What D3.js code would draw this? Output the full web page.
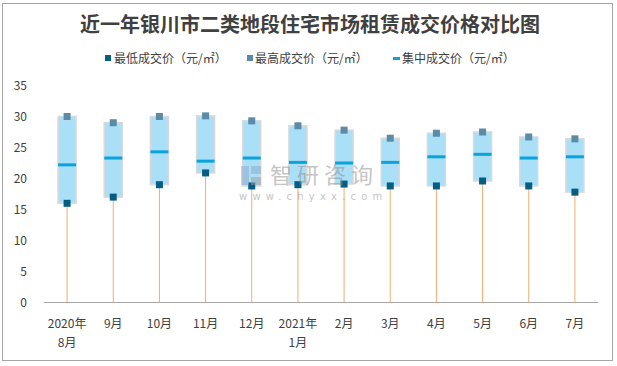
<!DOCTYPE html>
<html><head><meta charset="utf-8">
<script src="https://cdn.jsdelivr.net/npm/d3@7"></script>
<style>body{margin:0;background:#fff}svg{display:block}</style>
</head><body><svg id="c" width="617" height="366"></svg>
<script>
const categories = ["2020年|8月","9月","10月","11月","12月","2021年|1月","2月","3月","4月","5月","6月","7月"];
const minValues = [16.0,17.0,19.0,20.9,18.8,19.0,19.1,18.8,18.8,19.6,18.8,17.8];
const maxValues = [30.0,29.0,30.0,30.1,29.3,28.5,27.8,26.5,27.3,27.5,26.7,26.4];
const midValues = [22.2,23.3,24.3,22.8,23.3,22.6,22.5,22.6,23.5,23.9,23.3,23.5];
const yTicks = [0,5,10,15,20,25,30,35];
const legendLabels = ["最低成交价（元/㎡）","最高成交价（元/㎡）","集中成交价（元/㎡）"];
const title = "近一年银川市二类地段住宅市场租赁成交价格对比图";

const svg = d3.select("#c");
const font = "'Noto Sans CJK SC','Noto Sans',sans-serif";
svg.append("rect").attr("x",2.5).attr("y",3.5).attr("width",610).attr("height",357)
  .attr("fill","#fff").attr("stroke","#a6a6a6").attr("stroke-width",1);

svg.append("text").attr("x",310).attr("y",32).attr("text-anchor","middle")
  .attr("font-family",font).attr("font-weight","bold").attr("font-size",20)
  .attr("fill","#404040").text(title);

const x = d3.scaleBand().domain(categories).range([44,598]);
const y = d3.scaleLinear().domain([0,35]).range([302.5,85.5]);

// y axis labels
svg.append("g").selectAll("text").data(yTicks).join("text")
  .attr("x",27).attr("y",d=>y(d)+4.5).attr("text-anchor","end")
  .attr("font-family",font).attr("font-size",12).attr("fill","#404040").text(d=>d);

// axis line
svg.append("line").attr("x1",44).attr("x2",598).attr("y1",y(0)).attr("y2",y(0))
  .attr("stroke","#a6a6a6").attr("stroke-width",1);

const g = svg.append("g");
const cx = i => x(categories[i]) + x.bandwidth()/2;
const bw = 18;
categories.forEach((c,i)=>{
  g.append("line").attr("x1",cx(i)).attr("x2",cx(i)).attr("y1",y(0)).attr("y2",y(minValues[i]))
    .attr("stroke","#f2ad74").attr("stroke-width",1);
  g.append("rect").attr("x",cx(i)-bw/2).attr("y",y(maxValues[i])).attr("width",bw)
    .attr("height",y(minValues[i])-y(maxValues[i]))
    .attr("fill","#a9e0f7").attr("stroke","#d9d9d9").attr("stroke-width",1.5);
  g.append("rect").attr("x",cx(i)-bw/2).attr("y",y(midValues[i])-1.5).attr("width",bw).attr("height",3)
    .attr("fill","#0aa3dc");
  g.append("rect").attr("x",cx(i)-3.5).attr("y",y(maxValues[i])-3.5).attr("width",7).attr("height",7)
    .attr("fill","#5b8ba6");
  g.append("rect").attr("x",cx(i)-3.5).attr("y",y(minValues[i])-3.5).attr("width",7).attr("height",7)
    .attr("fill","#045e84");
});

// watermark (overlay)
const wm = svg.append("g").attr("opacity",0.5);
wm.append("rect").attr("x",241).attr("y",166).attr("width",8).attr("height",19).attr("fill","#8fa6c8");
wm.append("rect").attr("x",251).attr("y",166).attr("width",10).attr("height",8).attr("fill","#8fa6c8");
wm.append("rect").attr("x",251).attr("y",177).attr("width",10).attr("height",8).attr("fill","#a0a0a0");
wm.append("text").attr("x",270).attr("y",183).attr("font-family",font).attr("font-size",22)
  .attr("letter-spacing",5).attr("fill","#8c8c8c").text("智研咨询");
wm.append("text").attr("x",239).attr("y",200).attr("font-family","'DejaVu Sans',sans-serif").attr("font-size",10)
  .attr("letter-spacing",5.2).attr("fill","#8c8c8c").text("www.chyxx.com");

// x labels
categories.forEach((c,i)=>{
  const parts = c.split("|");
  parts.forEach((p,j)=>{
    svg.append("text").attr("x",cx(i)).attr("y",328+j*19).attr("text-anchor","middle")
      .attr("font-family",font).attr("font-size",12).attr("fill","#404040").text(p);
  });
});

// legend
const lg = svg.append("g").attr("font-family",font).attr("font-size",12).attr("fill","#404040");
const lx = [105,247,386];
lg.append("rect").attr("x",lx[0]).attr("y",55).attr("width",6).attr("height",6).attr("fill","#045e84");
lg.append("rect").attr("x",lx[1]).attr("y",55).attr("width",6).attr("height",6).attr("fill","#5b8ba6");
lg.append("rect").attr("x",lx[2]+7).attr("y",57).attr("width",7).attr("height",3).attr("fill","#0aa3dc");
legendLabels.forEach((t,i)=>{
  lg.append("text").attr("x",[114,255,402][i]).attr("y",62.5).text(t);
});
</script></body></html>
